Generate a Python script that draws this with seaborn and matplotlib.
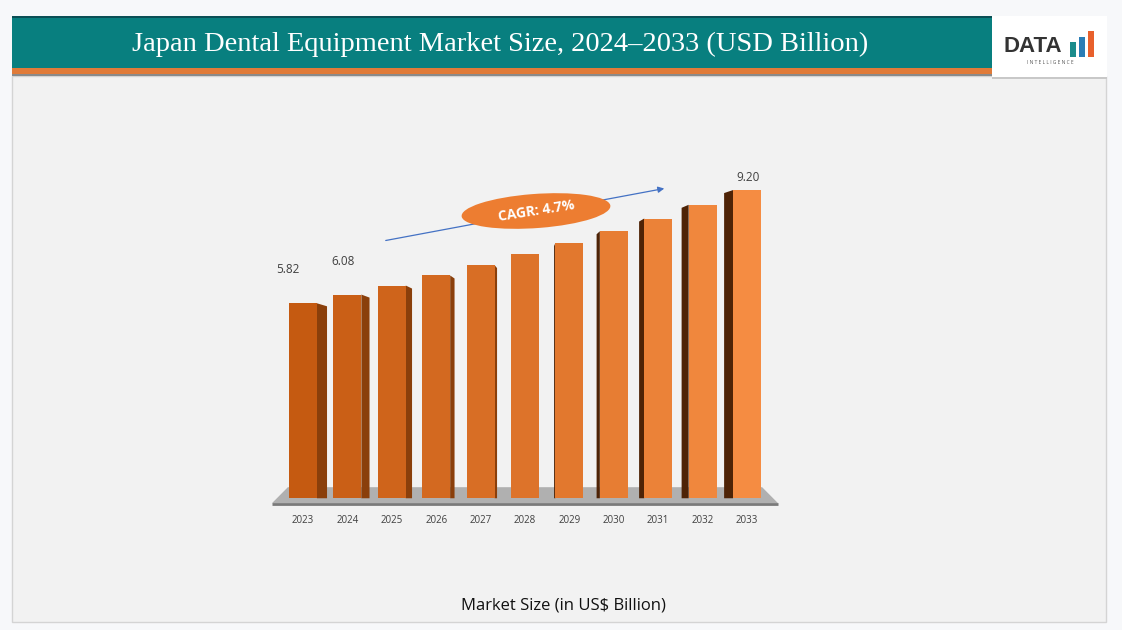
import matplotlib
matplotlib.use("Agg")
import matplotlib.pyplot as plt
import matplotlib.patches as mpatches
import seaborn as sns
import pandas as pd

# chart data
years = ["2023", "2024", "2025", "2026", "2027", "2028", "2029", "2030", "2031", "2032", "2033"]
market_size = [5.82, 6.08, 6.35, 6.65, 6.96, 7.28, 7.62, 7.97, 8.35, 8.76, 9.20]
shown_labels = {"2023": "5.82", "2024": "6.08", "2033": "9.20"}
title = "Japan Dental Equipment Market Size, 2024\u20132033 (USD Billion)"
cagr_text = "CAGR: 4.7%"
footer = "Market Size (in US$ Billion)"

W, H = 1122, 630


def px(x, y):
    """pixel position (top-left origin) -> figure fraction"""
    return x / W, 1 - y / H


def rect(fig, x0, y0, x1, y1, **kw):
    fx, fy = px(x0, y1)
    r = mpatches.Rectangle((fx, fy), (x1 - x0) / W, (y1 - y0) / H,
                           transform=fig.transFigure, **kw)
    fig.patches.append(r)
    return r


sns.set_theme(style="white")
plt.rcParams["font.family"] = ["Open Sans", "DejaVu Sans"]

fig = plt.figure(figsize=(W / 100, H / 100), dpi=100)
fig.patch.set_facecolor("#f7f8fa")

# panel + header (kept under the axes)
rect(fig, 12, 76, 1106, 622, facecolor="#f2f2f2", edgecolor="#d4d4d4", lw=1.0, zorder=-2)
rect(fig, 12, 16, 992, 68, facecolor="#087f7f", edgecolor="none", zorder=-1)
rect(fig, 12, 16, 992, 18, facecolor="#0b4f55", edgecolor="none", zorder=-1)
rect(fig, 12, 68, 992, 74, facecolor="#e07b39", edgecolor="none", zorder=-1)
rect(fig, 12, 74, 992, 76, facecolor="#8a8a8a", edgecolor="none", zorder=-1)
rect(fig, 992, 16, 1107, 78, facecolor="white", edgecolor="none", zorder=-1)
rect(fig, 992, 77, 1107, 79, facecolor="#c8c8c8", edgecolor="none", zorder=-1)

fig.text(*px(500, 44), title, color="white", fontsize=20.5,
         family=["Liberation Serif", "DejaVu Serif"], ha="center", va="center")

# logo
fig.text(*px(1033, 47), "DATA", color="#333333", fontsize=16, fontweight="bold",
         family=["Liberation Sans Narrow", "Liberation Sans", "DejaVu Sans"],
         ha="center", va="center")
for x0, top, col in [(1070, 42, "#1b8c8c"), (1079, 37, "#2a7db5"), (1088, 31, "#e8602c")]:
    rect(fig, x0, top, x0 + 6, 57, facecolor=col, edgecolor="none", zorder=2)
fig.text(*px(1050, 63), "I N T E L L I G E N C E", color="#555555", fontsize=3.5,
         ha="center", va="center")

# main axes
ax = fig.add_axes([263 / W, 115 / H, 524 / W, 368.5 / H])
ax.set_zorder(1)
ax.set_facecolor("none")

df = pd.DataFrame({"year": years, "size": market_size})
palette = sns.blend_palette(["#c55a11", "#f58c42"], len(years))
sns.barplot(data=df, x="year", y="size", hue="year", palette=palette,
            width=0.63, legend=False, saturation=1, linewidth=0, ax=ax, zorder=3)

n = len(years)
ax.set_xlim(-0.9, n - 0.1)
ax.set_ylim(-0.5, 10.5)

# floor under the bars
floor = mpatches.Polygon([(-0.70, -0.15), (n - 0.30, -0.15), (n - 0.66, 0.33), (-0.34, 0.33)],
                         closed=True, facecolor="#b0b0b0", edgecolor="none", zorder=1)
ax.add_patch(floor)
ax.plot([-0.70, n - 0.30], [-0.17, -0.17], color="#7a7a7a", lw=2, zorder=2,
        solid_capstyle="butt")

# side faces to give the 3D look
mid = 5.3
for i, bar in enumerate(ax.patches[:n]):
    x0 = bar.get_x()
    w = bar.get_width()
    h = bar.get_height()
    dx = abs(i - mid) * 1.9 / 44.4
    dy = 0.09
    if i < mid - 0.5:
        poly = [(x0 + w, 0), (x0 + w + dx, 0), (x0 + w + dx, h - dy), (x0 + w, h)]
        col = "#8a3f0b"
    elif i > mid + 0.5:
        poly = [(x0, 0), (x0 - dx, 0), (x0 - dx, h - dy), (x0, h)]
        col = "#4e2306"
    else:
        continue
    ax.add_patch(mpatches.Polygon(poly, closed=True, facecolor=col, edgecolor="none", zorder=2))

# value labels
offsets = {"2023": (-15, 34), "2024": (-4, 33), "2033": (1, 13)}
for i, (yr, val) in enumerate(zip(years, market_size)):
    if yr in shown_labels:
        ax.annotate(shown_labels[yr], (i, val), xytext=offsets[yr], textcoords="offset pixels",
                    ha="center", va="center", fontsize=8.5, color="#404040")

ax.set_xlabel("")
ax.set_ylabel("")
ax.set_yticks([])
ax.tick_params(axis="x", length=0, pad=0, labelsize=7, labelcolor="#404040")
for s in ax.spines.values():
    s.set_visible(False)

# CAGR arrow and bubble
fig.patches.append(mpatches.FancyArrowPatch(px(383, 241), px(667, 188), transform=fig.transFigure,
                                            arrowstyle="-|>", mutation_scale=9, color="#4472c4", lw=0.9,
                                            zorder=4))
ex, ey = px(536, 211)
ell = mpatches.Ellipse((ex, ey), 150 / W, 34 / H, angle=8, transform=fig.transFigure,
                       facecolor="#ed7d31", edgecolor="none", zorder=5)
fig.patches.append(ell)
fig.text(ex, ey, cagr_text, color="white", fontsize=10, fontweight="bold", rotation=9,
         ha="center", va="center", zorder=6)

fig.text(*px(563, 605), footer, color="#111111", fontsize=12, ha="center", va="center")

fig.savefig("out.png", dpi=100, facecolor=fig.get_facecolor())
